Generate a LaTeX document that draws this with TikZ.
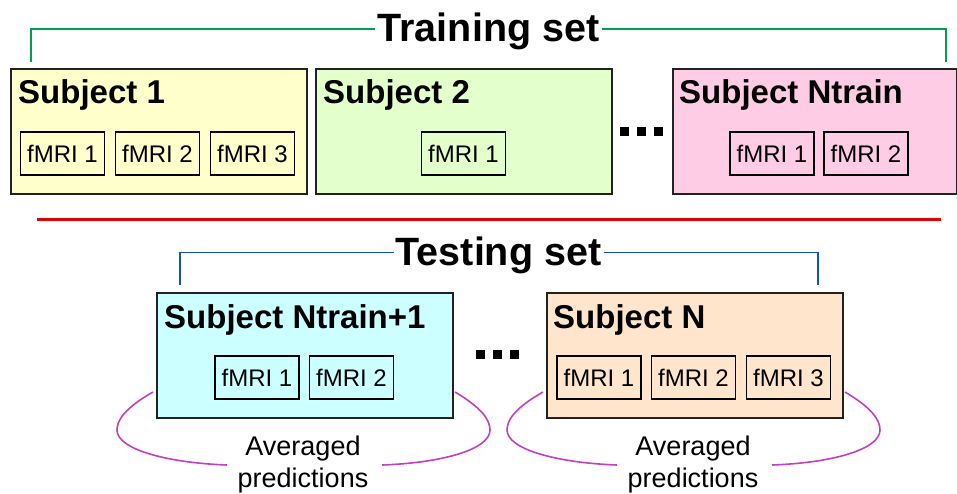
\documentclass[tikz,border=0pt]{standalone}
\usepackage{fontspec}
\setmainfont{Liberation Sans}
\usetikzlibrary{calc}
\definecolor{cyel}{HTML}{FFFFCC}
\definecolor{cgrn}{HTML}{E2FFCC}
\definecolor{cpnk}{HTML}{FFCCE6}
\definecolor{ccyn}{HTML}{CCFFFF}
\definecolor{cpch}{HTML}{FFE5CC}
\definecolor{lgreen}{HTML}{00A050}
\definecolor{lblue}{HTML}{1050D0}
\definecolor{lmag}{HTML}{C040C0}
\definecolor{lred}{HTML}{E00000}
\definecolor{bord}{HTML}{222222}
\tikzset{
  subjbox/.style={draw=bord, line width=1.5pt, rectangle, anchor=north west, inner sep=0pt,
    minimum width=296pt, minimum height=125pt},
  subjtitle/.style={anchor=base west, inner sep=0pt, font=\fontsize{33}{38}\selectfont\bfseries},
  fmri/.style={draw=black, line width=1.3pt, rectangle, inner sep=0pt, minimum width=84pt,
    minimum height=43pt, font=\fontsize{24}{27}\selectfont},
  settitle/.style={anchor=base, inner sep=2pt, font=\fontsize{39.5}{44}\selectfont\bfseries},
  dotsq/.style={fill=black, rectangle, inner sep=0pt, minimum size=9pt},
  avg/.style={align=center, inner sep=0pt, anchor=base, font=\fontsize{27}{32}\selectfont},
  bracket/.style={line width=1.8pt},
  arcline/.style={draw=lmag, line width=1.6pt},
}
\begin{document}
\begin{tikzpicture}[x=1pt,y=-1pt]
\useasboundingbox (0,0) rectangle (957,494);
% training subjects
\node[subjbox, fill=cyel] (s1) at (10,68.5) {};
\node[subjbox, fill=cgrn] (s2) at (315,68.5) {};
\node[subjbox, fill=cpnk, minimum width=284pt] (s3) at (672,68.5) {};
\node[subjtitle] (s1t) at (18,104) {Subject 1};
\node[subjtitle] (s2t) at (323,104) {Subject 2};
\node[subjtitle] (s3t) at (679,104) {Subject Ntrain};
\node[fmri] (f11) at (62.5,153.5) {fMRI 1};
\node[fmri] (f12) at (157.5,153.5) {fMRI 2};
\node[fmri] (f13) at (252.5,153.5) {fMRI 3};
\node[fmri] (f21) at (463.5,153.5) {fMRI 1};
\node[fmri] (f31) at (772,153.5) {fMRI 1};
\node[fmri] (f32) at (866,153.5) {fMRI 2};
\node[dotsq] (d1) at (624.5,131.5) {};
\node[dotsq] (d2) at (641.5,131.5) {};
\node[dotsq] (d3) at (658.5,131.5) {};
% training title and bracket
\node[settitle] (tr) at (488.5,42) {Training set};
\coordinate (gl) at (31,62);
\coordinate (gr) at (946,62);
\coordinate (gy) at (0,29);
\draw[bracket, draw=lgreen] (gl) |- (tr.west |- gy);
\draw[bracket, draw=lgreen] (tr.east |- gy) -| (gr);
% separator
\coordinate (rl) at (37,219.5);
\coordinate (rr) at (941,219.5);
\draw[line width=3pt, draw=lred] (rl) -- (rr);
% testing subjects
\node[subjbox, fill=ccyn] (s4) at (156,292) {};
\node[subjbox, fill=cpch] (s5) at (546,292) {};
\node[subjtitle] (s4t) at (164,328) {Subject Ntrain+1};
\node[subjtitle] (s5t) at (553,328) {Subject N};
\node[fmri] (f41) at (257,377.5) {fMRI 1};
\node[fmri] (f42) at (351.5,377.5) {fMRI 2};
\node[fmri] (f51) at (599,377.5) {fMRI 1};
\node[fmri] (f52) at (693.5,377.5) {fMRI 2};
\node[fmri] (f53) at (788.5,377.5) {fMRI 3};
\node[dotsq] (e1) at (480.5,354.5) {};
\node[dotsq] (e2) at (497.5,354.5) {};
\node[dotsq] (e3) at (514.5,354.5) {};
% testing title and bracket
\node[settitle] (te) at (498.5,265) {Testing set};
\coordinate (bl) at (180,285);
\coordinate (br) at (818,285);
\coordinate (by) at (0,252.5);
\draw[bracket, draw=lblue] (bl) |- (te.west |- by);
\draw[bracket, draw=lblue] (te.east |- by) -| (br);
% averaged predictions
\node[avg] (a1) at (303,487.5) {Averaged\\predictions};
\node[avg] (a2) at (693,487.5) {Averaged\\predictions};
\coordinate (p1a) at (153,392);
\coordinate (p1b) at (227,465);
\coordinate (p1c) at (455,392);
\coordinate (p1d) at (382,465);
\coordinate (p2a) at (543,392);
\coordinate (p2b) at (617,465);
\coordinate (p2c) at (845,392);
\coordinate (p2d) at (772,465);
\draw[arcline] (p1a) .. controls (125,408) and (117,420) .. (117,430) .. controls (117,450) and (170,463) .. (p1b);
\draw[arcline] (p1c) .. controls (482,408) and (490,420) .. (490,430) .. controls (490,450) and (440,463) .. (p1d);
\draw[arcline] (p2a) .. controls (515,408) and (507,420) .. (507,430) .. controls (507,450) and (560,463) .. (p2b);
\draw[arcline] (p2c) .. controls (872,408) and (880,420) .. (880,430) .. controls (880,450) and (830,463) .. (p2d);
\end{tikzpicture}
\end{document}
